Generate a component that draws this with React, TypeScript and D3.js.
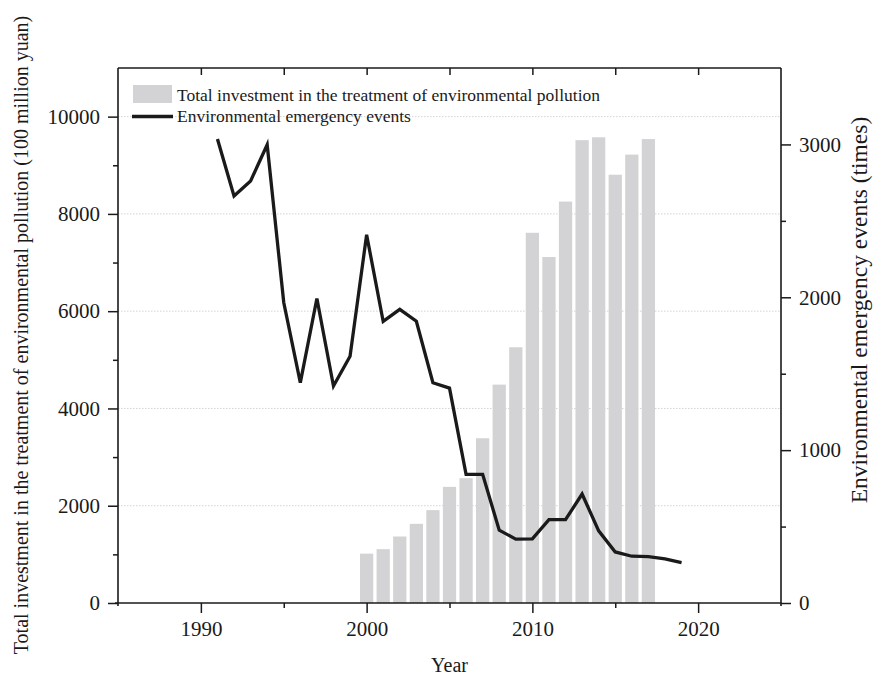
import React, { useEffect, useRef } from 'react';
import * as d3 from 'd3';

const barYears = [2000, 2001, 2002, 2003, 2004, 2005, 2006, 2007, 2008, 2009, 2010, 2011, 2012, 2013, 2014, 2015, 2016, 2017];
const investment = [1014.9, 1106.6, 1367.2, 1627.7, 1909.8, 2388.0, 2566.0, 3387.3, 4490.3, 5258.4, 7612.2, 7114.0, 8253.5, 9516.5, 9575.5, 8806.3, 9219.8, 9538.9];

const lineYears = [1991, 1992, 1993, 1994, 1995, 1996, 1997, 1998, 1999, 2000, 2001, 2002, 2003, 2004, 2005, 2006, 2007, 2008, 2009, 2010, 2011, 2012, 2013, 2014, 2015, 2016, 2017, 2018, 2019];
const events = [3035, 2663, 2761, 2998, 1966, 1442, 1992, 1420, 1614, 2409, 1842, 1921, 1843, 1441, 1406, 842, 842, 476, 418, 420, 545, 545, 713, 472, 334, 306, 303, 288, 264];

const leftTicks = [0, 2000, 4000, 6000, 8000, 10000];
const leftMinor = [1000, 3000, 5000, 7000, 9000];
const rightTicks = [0, 1000, 2000, 3000];
const rightMinor = [500, 1500, 2500];
const xTicks = [1990, 2000, 2010, 2020];
const xMinor = [1995, 2005, 2015];
const topTicks = [1990, 1995, 2000, 2005, 2010, 2015, 2020];

const legendLabels = ['Total investment in the treatment of environmental pollution', 'Environmental emergency events'];
const xTitle = 'Year';
const leftTitle = 'Total investment in the treatment of environmental pollution (100 million yuan)';
const rightTitle = 'Environmental emergency events (times)';

const W = 873;
const H = 677;
const FONT = '"Liberation Serif", "Times New Roman", serif';

export default function App() {
  const ref = useRef<SVGSVGElement>(null);

  useEffect(() => {
    const svg = d3.select(ref.current);
    svg.selectAll('*').remove();

    const L = 118, R = 781, T = 68, B = 603;
    const x = d3.scaleLinear().domain([1985, 2025]).range([L, R]);
    const yL = d3.scaleLinear().domain([0, 11000]).range([B, T]);
    const yR = d3.scaleLinear().domain([0, 3500]).range([B, T]);
    const ink = '#1a1a1a';

    // gridlines
    svg.append('g')
      .selectAll('line')
      .data(leftTicks.filter((d) => d > 0))
      .join('line')
      .attr('x1', L).attr('x2', R)
      .attr('y1', (d) => yL(d)).attr('y2', (d) => yL(d))
      .attr('stroke', '#d4d4d4')
      .attr('stroke-width', 1)
      .attr('stroke-dasharray', '1.5,1.5');

    // bars
    const bw = (x(1) - x(0)) * 0.8;
    svg.append('g')
      .selectAll('rect')
      .data(barYears.map((yr, i) => ({ yr, v: investment[i] })))
      .join('rect')
      .attr('x', (d) => x(d.yr) - bw / 2)
      .attr('width', bw)
      .attr('y', (d) => yL(d.v))
      .attr('height', (d) => B - yL(d.v))
      .attr('fill', '#d3d3d5');

    // line
    const line = d3.line<number>()
      .x((_, i) => x(lineYears[i]))
      .y((d) => yR(d));
    svg.append('path')
      .datum(events)
      .attr('d', line)
      .attr('fill', 'none')
      .attr('stroke', ink)
      .attr('stroke-width', 3.3)
      .attr('stroke-linejoin', 'miter');

    const styleAxis = (g: any, labels: boolean) => {
      g.select('.domain').remove();
      g.attr('font-family', FONT).attr('font-size', 21);
      g.selectAll('line').attr('stroke', ink).attr('stroke-width', 1.5);
      g.selectAll('text')
        .attr('font-family', FONT)
        .attr('font-size', 21)
        .attr('fill', ink);
      if (!labels) g.selectAll('text').remove();
    };

    // bottom axis
    svg.append('g').attr('transform', `translate(0,${B})`)
      .call(d3.axisBottom(x).tickValues(xTicks).tickSize(10).tickPadding(8).tickFormat(d3.format('d')))
      .call((g: any) => styleAxis(g, true));
    svg.append('g').attr('transform', `translate(0,${B})`)
      .call(d3.axisBottom(x).tickValues(xMinor).tickSize(5))
      .call((g: any) => styleAxis(g, false));
    // top axis, inward ticks
    svg.append('g').attr('transform', `translate(0,${T})`)
      .call(d3.axisBottom(x).tickValues(topTicks).tickSize(7))
      .call((g: any) => styleAxis(g, false));

    // left axis
    svg.append('g').attr('transform', `translate(${L},0)`)
      .call(d3.axisLeft(yL).tickValues(leftTicks).tickSize(10).tickPadding(8).tickFormat(d3.format('d')))
      .call((g: any) => styleAxis(g, true));
    svg.append('g').attr('transform', `translate(${L},0)`)
      .call(d3.axisLeft(yL).tickValues(leftMinor).tickSize(5))
      .call((g: any) => styleAxis(g, false));

    // right axis
    svg.append('g').attr('transform', `translate(${R},0)`)
      .call(d3.axisRight(yR).tickValues(rightTicks).tickSize(10).tickPadding(8).tickFormat(d3.format('d')))
      .call((g: any) => styleAxis(g, true));
    svg.append('g').attr('transform', `translate(${R},0)`)
      .call(d3.axisRight(yR).tickValues(rightMinor).tickSize(5))
      .call((g: any) => styleAxis(g, false));

    // frame
    const frame = svg.append('g').attr('stroke', ink).attr('stroke-width', 1.6);
    frame.append('line').attr('x1', L).attr('x2', L).attr('y1', T).attr('y2', B + 3);
    frame.append('line').attr('x1', R).attr('x2', R).attr('y1', T).attr('y2', B + 3);
    frame.append('line').attr('x1', L - 3).attr('x2', R).attr('y1', B).attr('y2', B);
    frame.append('line').attr('x1', L).attr('x2', R).attr('y1', T).attr('y2', T);

    // legend
    const lg = svg.append('g');
    lg.append('rect').attr('x', 133).attr('y', 85).attr('width', 39).attr('height', 18).attr('fill', '#d3d3d5');
    lg.append('line').attr('x1', 132).attr('x2', 173).attr('y1', 116.5).attr('y2', 116.5)
      .attr('stroke', ink).attr('stroke-width', 3.3);
    lg.selectAll('text')
      .data(legendLabels)
      .join('text')
      .attr('x', 177)
      .attr('y', (_, i) => 101 + i * 20.5)
      .attr('font-family', FONT)
      .attr('font-size', 17.5)
      .attr('fill', ink)
      .text((d) => d);

    // titles
    svg.append('text')
      .attr('x', (L + R) / 2).attr('y', 672)
      .attr('text-anchor', 'middle')
      .attr('font-family', FONT).attr('font-size', 20).attr('fill', ink)
      .text(xTitle);
    svg.append('text')
      .attr('transform', `translate(28,${(13 + 657) / 2}) rotate(-90)`)
      .attr('text-anchor', 'middle')
      .attr('font-family', FONT).attr('font-size', 20).attr('fill', ink)
      .text(leftTitle);
    svg.append('text')
      .attr('transform', `translate(867,${(110 + 510) / 2}) rotate(-90)`)
      .attr('text-anchor', 'middle')
      .attr('font-family', FONT).attr('font-size', 23.5).attr('fill', ink)
      .text(rightTitle);
  }, []);

  return (
    <svg
      ref={ref}
      width={W}
      height={H}
      style={{ position: 'absolute', left: 0, top: 0, background: '#fff' }}
    />
  );
}
